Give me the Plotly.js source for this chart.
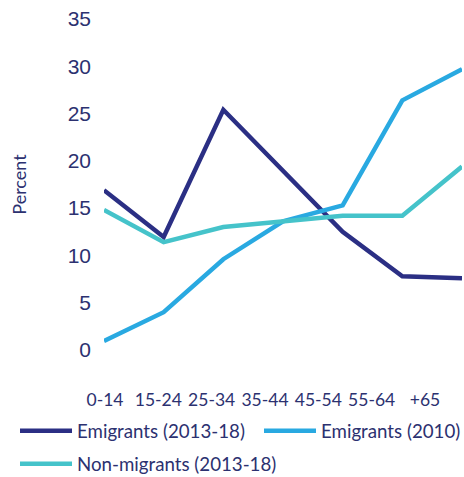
<!DOCTYPE html>
<html>
<head>
<meta charset="utf-8">
<script src="https://cdn.plot.ly/plotly-3.0.1.min.js"></script>
<style>html,body{margin:0;padding:0;background:#fff;}</style>
</head>
<body>
<div id="chart" style="width:464px;height:477px;"></div>
<script>
const ageGroups = ['0-14', '15-24', '25-34', '35-44', '45-54', '55-64', '+65'];
const emigrants1318 = [16.9, 11.95, 25.4, 18.9, 12.5, 7.8, 7.6];
const emigrants2010 = [0.95, 4.0, 9.6, 13.6, 15.3, 26.4, 29.7];
const nonMigrants1318 = [14.8, 11.4, 13.0, 13.6, 14.2, 14.2, 19.4];
const seriesNames = ['Emigrants (2013-18)', 'Emigrants (2010)', 'Non-migrants (2013-18)'];

const navy = '#2c3170';
const textFont = {family: 'Lato, sans-serif', size: 18.7, color: navy};
const tickFontX = {family: 'Lato, sans-serif', size: 17.5, color: navy};

const traces = [
  {x: ageGroups, y: emigrants1318, name: seriesNames[0], mode: 'lines',
   line: {color: '#2b2f84', width: 4.5}, legend: 'legend'},
  {x: ageGroups, y: emigrants2010, name: seriesNames[1], mode: 'lines',
   line: {color: '#29a9e1', width: 4.5}, legend: 'legend3'},
  {x: ageGroups, y: nonMigrants1318, name: seriesNames[2], mode: 'lines',
   line: {color: '#45c3ca', width: 4.5}, legend: 'legend2'},
  {x: ageGroups, y: emigrants2010, xaxis: 'x2', mode: 'lines', opacity: 0,
   line: {width: 0}, showlegend: false, hoverinfo: 'skip'}
];

const legendBase = {orientation: 'h', xref: 'container', yref: 'container',
                    xanchor: 'left', yanchor: 'top', font: textFont, itemwidth: 52};

const layout = {
  width: 464, height: 477,
  margin: {l: 104, r: 2, t: 19, b: 127},
  paper_bgcolor: '#fff', plot_bgcolor: '#fff',
  xaxis: {type: 'category', range: [0, 6], showticklabels: false, showgrid: false,
          zeroline: false, showline: false, ticks: ''},
  xaxis2: {type: 'category', overlaying: 'x', anchor: 'y', side: 'bottom',
           range: [-0.019, 6.694], showgrid: false, zeroline: false, showline: false,
           ticks: '', tickfont: tickFontX, ticklabelstandoff: 37},
  yaxis: {range: [0, 35], tick0: 0, dtick: 5, showgrid: false, zeroline: false,
          showline: false, ticks: '',
          tickfont: {family: 'Liberation Sans, Arial, sans-serif', size: 21, color: navy},
          ticklabelstandoff: 12,
          title: {text: 'Percent', font: {family: 'Lato, sans-serif', size: 18, color: navy}, standoff: 36}},
  showlegend: true,
  legend: Object.assign({}, legendBase, {x: 15 / 464, y: 1 - 412 / 477}),
  legend3: Object.assign({}, legendBase, {x: 259 / 464, y: 1 - 412 / 477}),
  legend2: Object.assign({}, legendBase, {x: 15 / 464, y: 1 - 445 / 477})
};

Plotly.newPlot('chart', traces, layout, {displayModeBar: false, staticPlot: true});
</script>
</body>
</html>
